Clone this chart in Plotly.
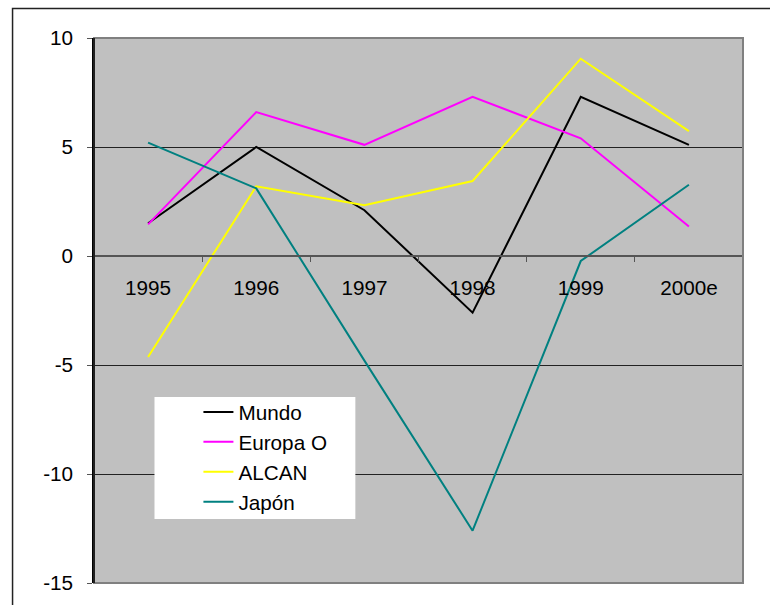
import plotly.graph_objects as go

years = ["1995", "1996", "1997", "1998", "1999", "2000e"]
mundo = [1.5, 5.0, 2.1, -2.6, 7.3, 5.1]
europa_o = [1.45, 6.6, 5.1, 7.3, 5.4, 1.35]
alcan = [-4.63, 3.2, 2.33, 3.44, 9.05, 5.73]
japon = [5.2, 3.1, -4.8, -12.6, -0.23, 3.27]

y_ticks = [-15, -10, -5, 0, 5, 10]
y_tick_text = ["-15", "-10", "-5", "0", "5", "10"]

series = [
    ("Mundo", mundo, "#000000"),
    ("Europa O", europa_o, "#FF00FF"),
    ("ALCAN", alcan, "#FFFF00"),
    ("Japón", japon, "#008080"),
]

font = dict(family="Liberation Sans, Arial, sans-serif", size=20.7, color="#000000")

fig = go.Figure()
for name, vals, color in series:
    fig.add_trace(go.Scatter(
        x=years, y=vals, name=name, mode="lines",
        line=dict(color=color, width=2),
    ))

fig.update_layout(
    width=770, height=605,
    margin=dict(l=93.5, r=27, t=37.7, b=22.3),
    paper_bgcolor="white",
    plot_bgcolor="#C0C0C0",
    font=font,
    showlegend=True,
    legend=dict(
        x=0.1609, y=0.3505, xanchor="left", yanchor="top",
        bgcolor="rgba(0,0,0,0)", borderwidth=0,
        font=font,
    ),
)

fig.update_yaxes(
    range=[-15, 10], tickvals=y_ticks, ticktext=y_tick_text,
    showgrid=True, gridcolor="#222222", gridwidth=1.2,
    zeroline=True, zerolinecolor="#555555", zerolinewidth=2,
    showline=True, linecolor="#000000", linewidth=1.5,
    ticks="outside", ticklen=5, tickcolor="#555555",
    ticklabelstandoff=10,
    fixedrange=True,
)

fig.update_xaxes(
    type="category", range=[-0.5, len(years) - 0.5],
    anchor="free", position=0.6,
    showgrid=False, zeroline=False,
    showline=True, linecolor="#555555", linewidth=2,
    ticks="outside", tickson="boundaries", ticklen=5, tickcolor="#555555",
    ticklabelstandoff=13,
    fixedrange=True,
)

# white legend panel, plot frame (gray) and outer chart border
fig.add_shape(type="rect", xref="paper", yref="paper",
              x0=0.0932, y0=0.1173, x1=0.4027, y1=0.3413,
              line=dict(width=0), fillcolor="white", layer="above")
fig.add_shape(type="rect", xref="paper", yref="paper", x0=0, y0=0, x1=1, y1=1,
              line=dict(color="#808080", width=2), layer="above")
fig.add_shape(type="line", xref="paper", yref="paper", x0=0, y0=0, x1=0, y1=1,
              line=dict(color="#000000", width=1.5), layer="above")
fig.add_shape(type="rect", xref="paper", yref="paper",
              x0=-0.1255, y0=-0.2, x1=1.2, y1=1.054,
              line=dict(color="#222222", width=1.5), layer="above")

fig.write_html("out.html")
